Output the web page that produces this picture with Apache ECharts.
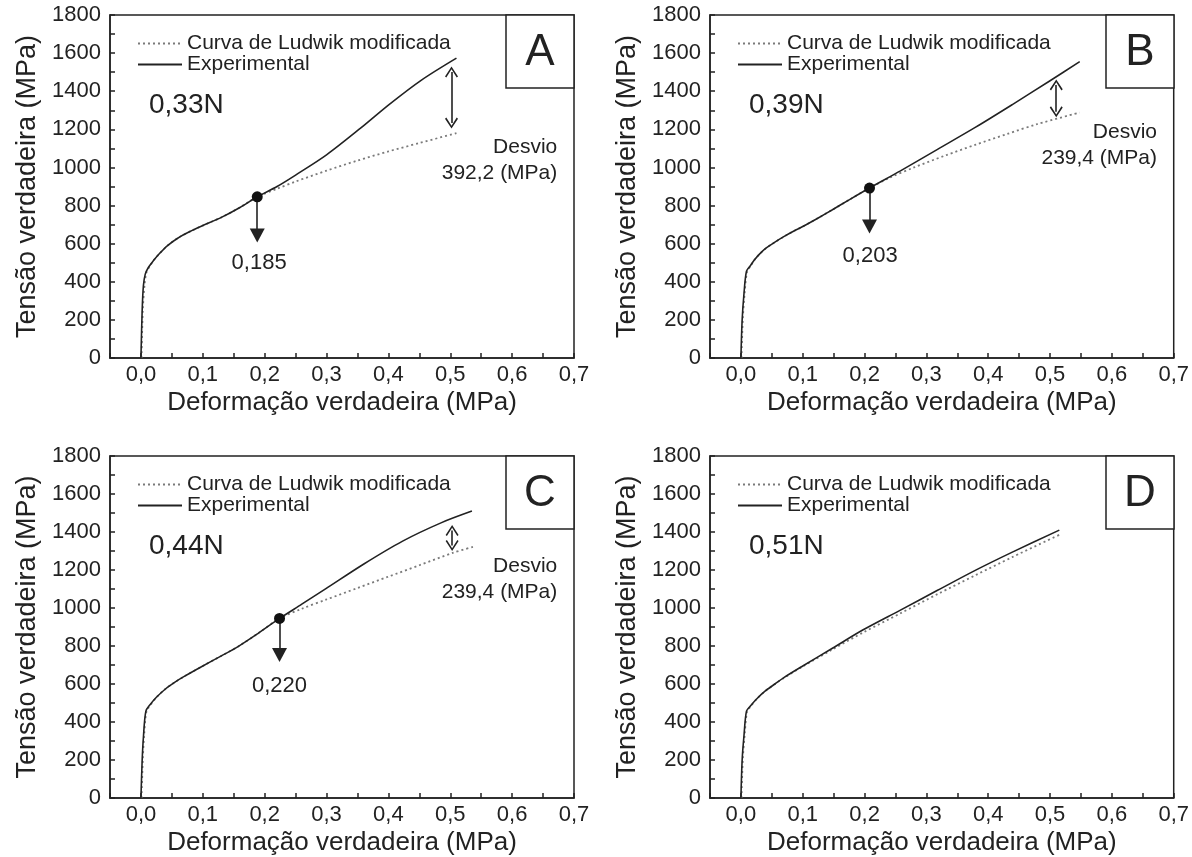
<!DOCTYPE html>
<html>
<head>
<meta charset="utf-8">
<title>Tensão verdadeira x deformação verdadeira</title>
<script src="https://cdn.jsdelivr.net/npm/echarts@6/dist/echarts.min.js"></script>
<style>
html,body{margin:0;padding:0;background:#fff;}
#chart{width:1192px;height:857px;}
</style>
</head>
<body>
<div id="chart"></div>
<script>
// pontos: [deformação, tensão (MPa)]
const expA = [[0,0],[0.002,250],[0.004,380],[0.007,440],[0.012,475],[0.02,510],[0.03,548],[0.043,590],[0.06,630],[0.08,665],[0.1,695],[0.13,738],[0.16,790],[0.188,846],[0.22,900],[0.25,960],[0.3,1066],[0.355,1206],[0.401,1330],[0.454,1460],[0.51,1574]]
const ludA = [[0.001,0],[0.003,250],[0.006,390],[0.009,450],[0.014,480],[0.02,510],[0.03,548],[0.043,590],[0.06,630],[0.08,665],[0.1,695],[0.13,738],[0.16,790],[0.188,846],[0.22,888],[0.25,926],[0.3,983],[0.35,1036],[0.4,1084],[0.45,1128],[0.51,1180]]

const expB = [[0,0],[0.002,200],[0.005,340],[0.009,455],[0.015,483],[0.022,515],[0.03,545],[0.04,575],[0.055,608],[0.07,638],[0.085,665],[0.1,690],[0.125,735],[0.148,778],[0.175,830],[0.208,892],[0.258,982],[0.318,1095],[0.379,1210],[0.439,1330],[0.5,1455],[0.548,1555]]
const ludB = [[0.001,0],[0.003,200],[0.006,340],[0.01,452],[0.016,484],[0.022,515],[0.03,545],[0.04,575],[0.055,608],[0.07,638],[0.085,665],[0.1,690],[0.125,735],[0.148,778],[0.175,830],[0.208,892],[0.24,945],[0.28,1000],[0.33,1062],[0.38,1120],[0.43,1175],[0.48,1228],[0.548,1288]]

const expC = [[0,0],[0.002,200],[0.004,320],[0.008,457],[0.015,492],[0.025,530],[0.04,575],[0.055,610],[0.07,640],[0.1,695],[0.13,748],[0.157,797],[0.19,868],[0.224,945],[0.26,1020],[0.299,1102],[0.361,1233],[0.423,1352],[0.485,1448],[0.535,1510]]
const ludC = [[0.001,0],[0.003,200],[0.005,320],[0.009,457],[0.016,492],[0.025,530],[0.04,575],[0.055,610],[0.07,640],[0.1,695],[0.13,748],[0.157,797],[0.19,868],[0.224,945],[0.26,996],[0.3,1045],[0.35,1105],[0.4,1165],[0.45,1225],[0.504,1290],[0.541,1326]]

const expD = [[0,0],[0.002,200],[0.005,330],[0.009,457],[0.015,483],[0.025,520],[0.039,562],[0.055,600],[0.07,635],[0.1,695],[0.148,788],[0.197,884],[0.258,989],[0.318,1093],[0.379,1198],[0.439,1294],[0.515,1410]]
const ludD = [[0.001,0],[0.003,200],[0.006,330],[0.01,455],[0.016,483],[0.025,520],[0.039,562],[0.055,600],[0.07,633],[0.1,692],[0.148,782],[0.2,875],[0.258,972],[0.318,1073],[0.379,1172],[0.439,1268],[0.515,1385]]

const letters = ['A','B','C','D']
const forces = ['0,33N','0,39N','0,44N','0,51N']
// ponto de separação das curvas
const dots = [[0.188,846],[0.208,892],[0.224,945]]
const arrowTo = [643, 690, 752]
const dotText = ['0,185','0,203','0,220']
const dotTextPos = [[0.191,497],[0.209,533],[0.224,588]]
// seta dupla do desvio: [x, topo, base]
const gaps = [[0.502,1501,1233],[0.51,1433,1292],[0.503,1408,1329]]
const desvioText = ['Desvio\n392,2 (MPa)','Desvio\n239,4 (MPa)','Desvio\n239,4 (MPa)']
const desvioPos = [[0.673,1039],[0.673,1115],[0.673,1149]]

const exps = [expA, expB, expC, expD]
const luds = [ludA, ludB, ludC, ludD]

const INK = '#222'
const pos = [{left:110, top:15},{left:710, top:15},{left:110, top:456},{left:710, top:456}]
const W = 464, H = 343
const chev = 'path://M5,0 L10,9 L9,10 L5,2.6 L1,10 L0,9 Z'

const fmtX = v => {
  const k = Math.round(v * 100)
  return k % 10 === 0 ? (k / 100).toFixed(1).replace('.', ',') : ''
}

const grids = [], xAxes = [], yAxes = [], series = [], legends = [], graphics = []

pos.forEach((p, i) => {
  grids.push({left:p.left, top:p.top, width:W, height:H, show:true, borderColor:INK, borderWidth:1.5})
  xAxes.push({
    gridIndex:i, type:'value', min:-0.05, max:0.7, interval:0.05,
    axisLine:{onZero:false, lineStyle:{color:INK, width:1.5}},
    axisTick:{inside:true, length:5, lineStyle:{color:INK, width:1.5}},
    axisLabel:{fontSize:22, color:INK, margin:6, formatter:fmtX},
    splitLine:{show:false},
    name:'Deformação verdadeira (MPa)', nameLocation:'middle', nameGap:32,
    nameTextStyle:{fontSize:26, color:INK}
  })
  yAxes.push({
    gridIndex:i, type:'value', min:0, max:1800, interval:200,
    axisLine:{show:true, onZero:false, lineStyle:{color:INK, width:1.5}},
    axisTick:{inside:true, length:5, lineStyle:{color:INK, width:1.5}},
    minorTick:{show:true, splitNumber:2, length:5, lineStyle:{color:INK, width:1.5}},
    axisLabel:{fontSize:22, color:INK, margin:9, formatter:v => String(v)},
    splitLine:{show:false},
    name:'Tensão verdadeira (MPa)', nameLocation:'middle', nameGap:69,
    nameTextStyle:{fontSize:27, color:INK}
  })
  series.push({
    name:'Curva de Ludwik modificada', type:'line', xAxisIndex:i, yAxisIndex:i,
    data:luds[i], symbol:'none', smooth:0.3, z:2,
    lineStyle:{type:[2,3], width:1.8, color:'#7a7a7a'}, itemStyle:{color:'#7a7a7a'}
  })
  const s = {
    name:'Experimental', type:'line', xAxisIndex:i, yAxisIndex:i,
    data:exps[i], symbol:'none', smooth:0.3, z:3,
    lineStyle:{width:1.6, color:INK}, itemStyle:{color:INK}
  }
  if (i < 3) {
    const d = dots[i], g = gaps[i]
    s.markPoint = {
      silent:true, animation:false,
      data:[
        {coord:d, symbol:'circle', symbolSize:11, itemStyle:{color:'#111'}, label:{show:false}},
        {coord:dotTextPos[i], symbol:'circle', symbolSize:1, itemStyle:{color:'rgba(0,0,0,0)'},
          label:{show:true, position:'inside', formatter:dotText[i], fontSize:22, color:INK}},
        {coord:desvioPos[i], symbol:'circle', symbolSize:1, itemStyle:{color:'rgba(0,0,0,0)'},
          label:{show:true, position:'inside', align:'right', formatter:desvioText[i], fontSize:21, lineHeight:26, color:INK}}
      ]
    }
    s.markLine = {
      silent:true, animation:false, label:{show:false},
      lineStyle:{type:'solid', width:1.6, color:INK},
      data:[
        [{coord:d, symbol:'none'}, {coord:[d[0], arrowTo[i]], symbol:'triangle', symbolSize:[15,14]}],
        [{coord:[g[0], g[1]], symbol:chev, symbolSize:[13,11]}, {coord:[g[0], g[2]], symbol:chev, symbolSize:[13,11]}]
      ]
    }
  }
  series.push(s)
  legends.push({
    left:p.left + 22, top:p.top + 13, orient:'vertical', selectedMode:false,
    itemWidth:44, itemHeight:12, itemGap:0,
    itemStyle:{color:'rgba(0,0,0,0)', borderWidth:0},
    textStyle:{fontSize:21, lineHeight:21, color:INK},
    data:['Curva de Ludwik modificada','Experimental']
  })
  // caixa com a letra do painel
  graphics.push({type:'rect', z:100, shape:{x:p.left + 396, y:p.top, width:68, height:73},
    style:{fill:'#fff', stroke:INK, lineWidth:1.5}})
  graphics.push({type:'text', z:101, x:p.left + 430, y:p.top + 38,
    style:{text:letters[i], fontSize:44, fontFamily:'Liberation Sans', fill:INK, align:'center', verticalAlign:'middle'}})
  graphics.push({type:'text', z:101, x:p.left + 39, y:p.top + 90,
    style:{text:forces[i], fontSize:28, fontFamily:'Liberation Sans', fill:INK, align:'left', verticalAlign:'middle'}})
})

const chart = echarts.init(document.getElementById('chart'))
chart.setOption({
  animation:false,
  backgroundColor:'#fff',
  textStyle:{fontFamily:'Liberation Sans, Arial, sans-serif'},
  grid:grids, xAxis:xAxes, yAxis:yAxes, legend:legends,
  series:series, graphic:graphics
})
</script>
</body>
</html>
